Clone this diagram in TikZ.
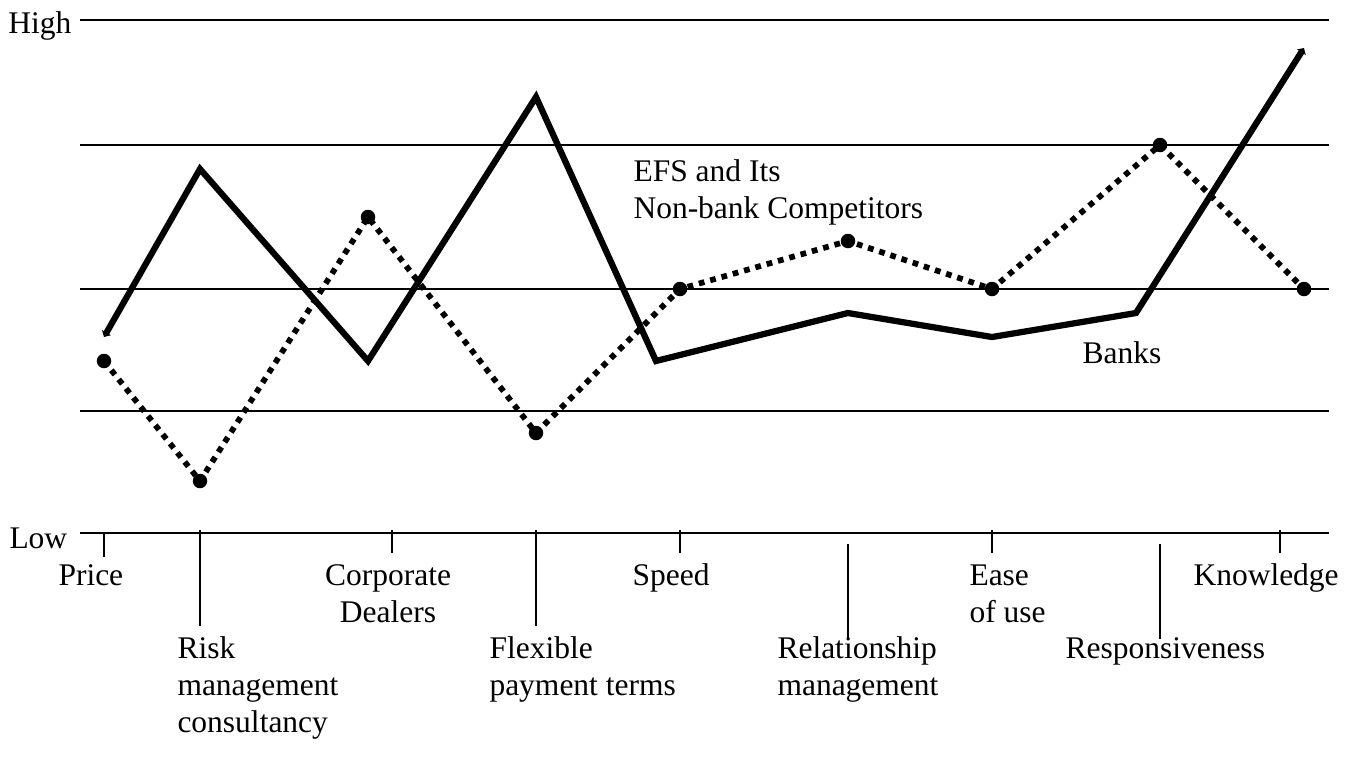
\documentclass[tikz,border=0pt]{standalone}
\usepackage{fontspec}
\setmainfont{Liberation Serif}
\usetikzlibrary{arrows.meta}

\begin{document}
\begin{tikzpicture}[x=0.4pt,y=-0.4pt,font=\fontsize{12.6}{14.8}\selectfont,
	axis/.style={line width=1.1pt},
	grid/.style={line width=0.7pt},
	tick/.style={line width=0.8pt},
	banks/.style={line width=2.5pt,{Triangle[length=2pt,width=4pt]}-{Triangle[length=2pt,width=4pt]}},
	efs/.style={line width=2.3pt,dash pattern=on 2.3pt off 2.4pt},
	efsdot/.style={circle,fill,inner sep=0pt,minimum size=5.8pt},
	lbl/.style={inner sep=0pt,anchor=base west,align=left}]
\useasboundingbox (0,0) rectangle (1353,773);

% level lines
\draw[axis] (80,20) -- (1329,20);
\foreach \y in {145,289,411}
	\draw[grid] (80,\y) -- (1329,\y);
\draw[axis] (80,533) -- (1329,533);
\node[lbl] (high) at (8,33) {High};
\node[lbl] (low) at (9,548) {Low};

% ticks
\foreach \x/\a/\b in {104/533/557, 200/530/626, 392/530/553, 536/530/626, 680/530/553, 848/544/639, 992/530/553, 1160/544/639, 1280/530/553}
	\draw[tick] (\x,\a) -- (\x,\b);

% attribute labels (base = last line)
\node[lbl] (v1) at (58,585) {Price};
\node[lbl] (v2) at (177,732) {Risk\\management\\consultancy};
\node[lbl,align=center,anchor=base] (v3) at (388,622) {Corporate\\Dealers};
\node[lbl] (v4) at (489,695) {Flexible\\payment terms};
\node[lbl,anchor=base] (v5) at (671,585) {Speed};
\node[lbl] (v6) at (777,695) {Relationship\\management};
\node[lbl] (v7) at (969,622) {Ease\\of use};
\node[lbl] (v8) at (1065,658) {Responsiveness};
\node[lbl] (v9) at (1193,585) {Knowledge};

\node[lbl] (efs) at (633,218) {EFS and Its\\Non-bank Competitors};
\node[lbl] (banks) at (1082,363) {Banks};

% data points
\foreach \n/\x/\y in {1/104/337, 2/200/169, 3/368/361, 4/536/97, 5/656/361, 6/848/313, 7/992/337, 8/1136/313, 9/1304/48}
	\coordinate (b\n) at (\x,\y);
\foreach \n/\x/\y in {1/104/361, 2/200/481, 3/368/217, 4/536/433, 5/680/289, 6/848/241, 7/992/289, 8/1160/145, 9/1304/289}
	\coordinate (e\n) at (\x,\y);

\draw[efs] (e1) -- (e2) -- (e3) -- (e4) -- (e5) -- (e6) -- (e7) -- (e8) -- (e9);
\foreach \n in {1,...,9}
	\node[efsdot] (d\n) at (e\n) {};
\draw[banks] (b1) -- (b2) -- (b3) -- (b4) -- (b5) -- (b6) -- (b7) -- (b8) -- (b9);

\end{tikzpicture}
\end{document}
